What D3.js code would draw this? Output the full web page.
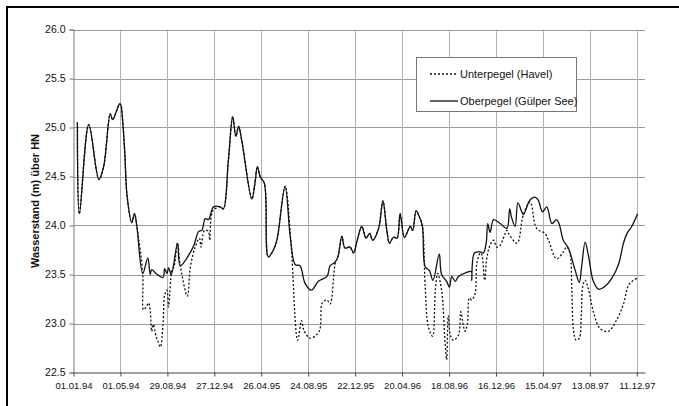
<!DOCTYPE html>
<html>
<head>
<meta charset="utf-8">
<script src="https://cdn.jsdelivr.net/npm/d3@7"></script>
<style>
  body { margin: 0; background: #fff; }
  svg { display: block; font-family: "Liberation Sans", Arial, sans-serif; }
</style>
</head>
<body>
<svg id="chart" width="679" height="406"></svg>
<script>
// Pegelstände Gülper See / Havel, 1994–1997
const startLabel = "01.01.94";
const endLabel = "01.01.98";
const xTickLabels = ["01.01.94", "01.05.94", "29.08.94", "27.12.94", "26.04.95", "24.08.95",
  "22.12.95", "20.04.96", "18.08.96", "16.12.96", "15.04.97", "13.08.97", "11.12.97"];
const yTicks = [22.5, 23.0, 23.5, 24.0, 24.5, 25.0, 25.5, 26.0];
const yTitle = "Wasserstand (m) über HN";
const seriesNames = ["Unterpegel (Havel)", "Oberpegel (Gülper See)"];

// days counted from 01.01.94
const oberDays = [10, 15, 39, 65, 77, 94, 100, 118, 121, 125, 131, 137, 149, 156, 162, 177, 190, 196, 200, 211,
  229, 233, 239, 243, 250, 266, 273, 298, 308, 320, 328, 337, 345, 358, 375, 383, 396, 407, 415, 422,
  430, 456, 464, 470, 477, 488, 498, 511, 520, 541, 554, 567, 579, 592, 608, 626, 648, 656, 667, 676,
  686, 694, 707, 716, 724, 737, 748, 757, 765, 780, 791, 801, 808, 818, 827, 835, 846, 861, 867, 876,
  884, 892, 899, 910, 919, 935, 941, 954, 961, 967, 976, 984, 1004, 1017, 1018, 1025, 1040, 1048, 1055, 1059,
  1065, 1074, 1091, 1108, 1115, 1120, 1129, 1136, 1146, 1150, 1167, 1180, 1188, 1199, 1210, 1223, 1235, 1242, 1252, 1265,
  1282, 1293, 1299, 1308, 1316, 1329, 1342, 1359, 1376, 1393, 1406, 1415, 1427, 1442];
const oberValues = [25.05, 24.12, 25.03, 24.47, 24.60, 25.14, 25.08, 25.24, 25.23, 25.10, 24.75, 24.30, 24.03, 24.12, 23.99, 23.51, 23.67, 23.50, 23.55, 23.51,
  23.47, 23.56, 23.51, 23.57, 23.50, 23.82, 23.59, 23.72, 23.80, 23.94, 23.95, 24.07, 24.06, 24.19, 24.19, 24.17, 24.67, 25.11, 24.91, 25.01,
  24.87, 24.27, 24.44, 24.60, 24.50, 24.43, 23.68, 23.75, 23.85, 24.40, 23.89, 23.60, 23.59, 23.41, 23.34, 23.43, 23.48, 23.59, 23.62, 23.68,
  23.89, 23.77, 23.78, 23.72, 23.83, 23.99, 23.87, 23.92, 23.85, 23.97, 24.25, 23.95, 23.82, 23.88, 23.87, 24.12, 23.88, 23.99, 23.95, 24.15,
  24.09, 23.99, 23.58, 23.54, 23.44, 23.71, 23.50, 23.43, 23.37, 23.48, 23.43, 23.48, 23.52, 23.53, 23.44, 23.72, 23.73, 23.72, 23.82, 24.02,
  23.93, 24.06, 24.02, 23.97, 24.17, 24.08, 23.99, 24.23, 24.14, 24.11, 24.26, 24.29, 24.26, 24.14, 24.19, 24.02, 24.06, 24.01, 23.85, 23.77,
  23.55, 23.42, 23.58, 23.83, 23.70, 23.43, 23.35, 23.38, 23.46, 23.60, 23.82, 23.92, 23.99, 24.12];

const unterDays = [10, 15, 39, 65, 77, 94, 100, 118, 121, 125, 131, 137, 149, 156, 162, 177, 179, 186, 192, 196,
  200, 204, 211, 215, 222, 229, 233, 239, 243, 252, 257, 266, 273, 291, 299, 311, 322, 326, 335, 345,
  348, 352, 358, 375, 383, 396, 407, 415, 422, 430, 456, 464, 470, 477, 488, 498, 511, 520, 541, 556,
  573, 583, 589, 605, 628, 636, 648, 656, 669, 676, 686, 694, 707, 716, 724, 737, 748, 757, 765, 780,
  791, 801, 808, 818, 827, 835, 846, 861, 867, 876, 884, 892, 899, 907, 918, 925, 931, 941, 950, 954,
  958, 964, 971, 984, 990, 997, 1001, 1007, 1012, 1018, 1027, 1031, 1040, 1044, 1051, 1057, 1065, 1074, 1082, 1091,
  1108, 1112, 1134, 1150, 1167, 1171, 1184, 1205, 1214, 1235, 1252, 1261, 1269, 1274, 1278, 1285, 1293, 1298, 1302, 1308,
  1316, 1329, 1346, 1367, 1389, 1406, 1419, 1431, 1440];
const unterValues = [25.05, 24.12, 25.03, 24.47, 24.60, 25.14, 25.08, 25.24, 25.23, 25.10, 24.75, 24.30, 24.03, 24.12, 23.99, 23.51, 23.14, 23.17, 23.21, 23.14,
  22.92, 22.99, 22.87, 22.83, 22.76, 23.00, 23.29, 23.34, 23.17, 23.55, 23.58, 23.82, 23.59, 23.28, 23.58, 23.78, 23.87, 23.78, 23.95, 23.94,
  23.85, 24.09, 24.16, 24.19, 24.17, 24.67, 25.11, 24.91, 25.01, 24.87, 24.27, 24.44, 24.60, 24.50, 24.43, 23.68, 23.75, 23.85, 24.40, 23.82,
  22.83, 23.03, 22.93, 22.85, 22.92, 23.21, 23.24, 23.20, 23.61, 23.68, 23.89, 23.77, 23.78, 23.72, 23.83, 23.99, 23.87, 23.92, 23.85, 23.97,
  24.25, 23.95, 23.82, 23.88, 23.87, 24.12, 23.88, 23.99, 23.95, 24.15, 24.09, 23.99, 23.38, 22.97, 22.87, 23.34, 23.51, 23.34, 22.80, 22.63,
  23.08, 22.87, 22.83, 22.88, 23.12, 22.97, 22.92, 23.00, 23.26, 23.24, 23.31, 23.61, 23.72, 23.70, 23.44, 23.68, 23.80, 23.85, 23.78, 23.80,
  23.95, 23.92, 23.82, 24.11, 24.24, 24.21, 23.97, 23.92, 23.85, 23.66, 23.73, 23.78, 23.72, 23.34, 22.94, 22.83, 22.85, 23.07, 23.38, 23.44,
  23.36, 23.12, 22.95, 22.92, 23.04, 23.20, 23.39, 23.44, 23.46];

const parse = d3.timeParse("%d.%m.%y");
const fmt = d3.timeFormat("%d.%m.%y");
const t0 = parse(startLabel);
const toDate = d => d3.timeDay.offset(t0, d);

const svg = d3.select("#chart");
const margin = { left: 73.5, right: 645, top: 29.5, bottom: 372.5 };

const x = d3.scaleTime().domain([t0, parse(endLabel)]).range([margin.left, margin.right]);
const y = d3.scaleLinear().domain([22.5, 26]).range([margin.bottom, margin.top]);
const xTicks = xTickLabels.map(parse);

// outer frame (top and left edges fall inside the page)
svg.append("rect").attr("x", 7).attr("y", 7).attr("width", 690).attr("height", 420)
  .attr("fill", "none").attr("stroke", "#000").attr("stroke-width", 2);

// grid
const grid = svg.append("g");
grid.selectAll("line.h").data(yTicks.filter(v => v > 22.5)).join("line")
  .attr("x1", margin.left).attr("x2", margin.right)
  .attr("y1", d => Math.round(y(d)) + 0.5).attr("y2", d => Math.round(y(d)) + 0.5)
  .attr("stroke", "#9a9a9a").attr("stroke-width", 1);
grid.selectAll("line.v").data(xTicks.slice(1)).join("line")
  .attr("x1", d => Math.round(x(d)) + 0.5).attr("x2", d => Math.round(x(d)) + 0.5)
  .attr("y1", margin.top).attr("y2", margin.bottom)
  .attr("stroke", "#b0b0b0").attr("stroke-width", 1);

// axes
const yAxis = d3.axisLeft(y).tickValues(yTicks).tickFormat(d3.format(".1f")).tickSize(4).tickPadding(4);
const gy = svg.append("g").attr("transform", `translate(${margin.left},0)`).call(yAxis);
gy.select(".domain").attr("stroke", "#777");
gy.selectAll(".tick line").attr("stroke", "#777");
gy.selectAll("text").attr("font-size", 10.5).attr("fill", "#111");

const xAxis = d3.axisBottom(x).tickValues(xTicks).tickFormat(fmt).tickSize(4).tickPadding(6).tickSizeOuter(0);
const gx = svg.append("g").attr("transform", `translate(0,${margin.bottom})`).call(xAxis);
gx.select(".domain").attr("stroke", "#444");
gx.selectAll(".tick line").attr("stroke", "#444");
gx.selectAll("text").attr("font-size", 9.5).attr("fill", "#111");

// y axis title
svg.append("text")
  .attr("transform", `translate(39,${(margin.top + margin.bottom) / 2}) rotate(-90)`)
  .attr("text-anchor", "middle").attr("font-size", 11).attr("font-weight", "bold")
  .attr("fill", "#111").text(yTitle);

// series
const line = d3.line().curve(d3.curveCatmullRom.alpha(0.5))
  .x(d => x(toDate(d[0]))).y(d => y(d[1]));
const unter = unterDays.map((d, i) => [d, unterValues[i]]);
const ober = oberDays.map((d, i) => [d, oberValues[i]]);

svg.append("path").attr("d", line(unter)).attr("fill", "none")
  .attr("stroke", "#111").attr("stroke-width", 1.3).attr("stroke-dasharray", "2,2");
svg.append("path").attr("d", line(ober)).attr("fill", "none")
  .attr("stroke", "#111").attr("stroke-width", 1.3);

// legend
const lg = svg.append("g");
lg.append("rect").attr("x", 416.5).attr("y", 57.5).attr("width", 160).attr("height", 54)
  .attr("fill", "#fff").attr("stroke", "#777").attr("stroke-width", 1);
const legendRows = [{ name: seriesNames[0], dash: "2,2", cy: 74 }, { name: seriesNames[1], dash: null, cy: 101 }];
legendRows.forEach(r => {
  lg.append("line").attr("x1", 430).attr("x2", 458).attr("y1", r.cy).attr("y2", r.cy)
    .attr("stroke", "#111").attr("stroke-width", 1.3).attr("stroke-dasharray", r.dash);
  lg.append("text").attr("x", 460).attr("y", r.cy).attr("dy", "0.35em")
    .attr("font-size", 11).attr("fill", "#111").text(r.name);
});
</script>
</body>
</html>
